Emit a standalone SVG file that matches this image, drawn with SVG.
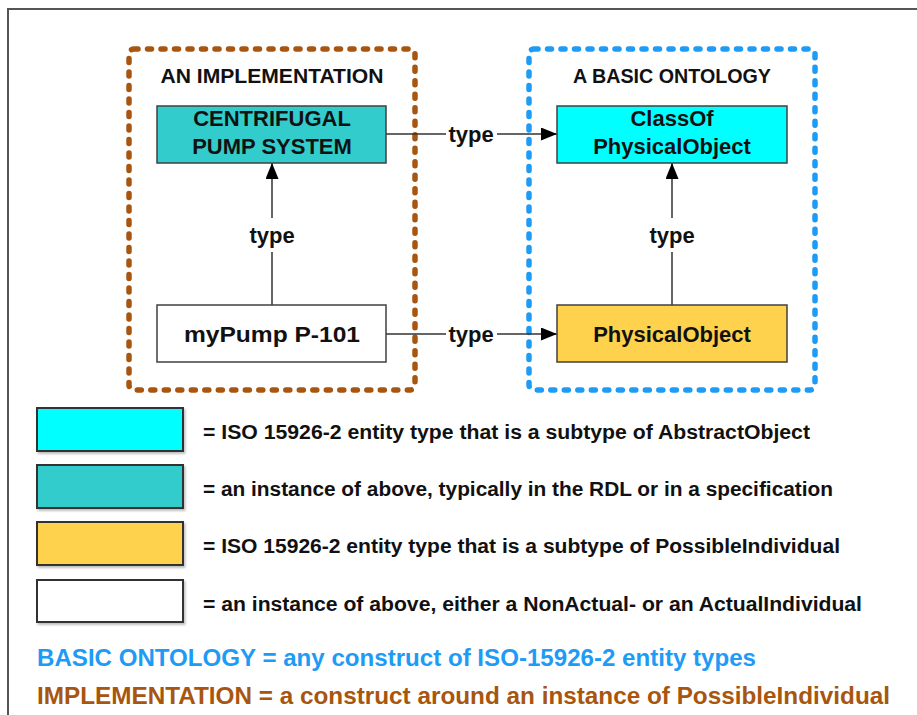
<svg xmlns="http://www.w3.org/2000/svg" width="917" height="715" viewBox="0 0 917 715">
<style>
text{font-family:"Liberation Sans",Arial,sans-serif;font-weight:bold;fill:#111}
.node{stroke:#404040;stroke-width:1.5}
.lbl{font-size:22px;text-anchor:middle}
.title{font-size:20px;text-anchor:middle}
.conn{stroke:#333;stroke-width:1.5;fill:none}
.leg{stroke:#333;stroke-width:2}
.legt{font-size:20px}
.grp{fill:none;stroke-width:5.5;stroke-linecap:round;stroke-dasharray:4 9.5}
</style>
<defs>
<marker id="arr" markerWidth="16" markerHeight="13" refX="16" refY="6.5" orient="auto" markerUnits="userSpaceOnUse">
<path d="M0,0 L16,6.5 L0,13 Z" fill="#000"/>
</marker>
<filter id="sh" x="-10%" y="-10%" width="130%" height="140%"><feDropShadow dx="1.5" dy="2" stdDeviation="1.2" flood-color="#000" flood-opacity="0.25"/></filter>
</defs>
<rect width="917" height="715" fill="#fff"/>
<rect x="8" y="9" width="930" height="730" fill="none" stroke="#555" stroke-width="2"/>

<g id="implementation">
<rect class="grp" x="129" y="49" width="286" height="341" rx="5" stroke="#A8560F"/>
<text class="title" x="272" y="83" textLength="223" lengthAdjust="spacingAndGlyphs">AN IMPLEMENTATION</text>
</g>
<g id="basic-ontology">
<rect class="grp" x="529" y="49" width="286" height="341" rx="5" stroke="#1E9BF5"/>
<text class="title" x="672" y="83" textLength="198" lengthAdjust="spacingAndGlyphs">A BASIC ONTOLOGY</text>
</g>

<g id="connectors">
<line class="conn" x1="272" y1="305" x2="272" y2="252"/>
<line class="conn" x1="272" y1="218" x2="272" y2="163" marker-end="url(#arr)"/>
<text class="lbl" x="272" y="243">type</text>
<line class="conn" x1="672" y1="305" x2="672" y2="252"/>
<line class="conn" x1="672" y1="218" x2="672" y2="163" marker-end="url(#arr)"/>
<text class="lbl" x="672" y="243">type</text>
<line class="conn" x1="386" y1="134" x2="446" y2="134"/>
<line class="conn" x1="497" y1="134" x2="557" y2="134" marker-end="url(#arr)"/>
<text class="lbl" x="471" y="142">type</text>
<line class="conn" x1="386" y1="334" x2="446" y2="334"/>
<line class="conn" x1="497" y1="334" x2="557" y2="334" marker-end="url(#arr)"/>
<text class="lbl" x="471" y="342">type</text>
</g>

<g id="centrifugal-pump-system">
<rect class="node" x="157" y="106" width="229" height="57" fill="#33CCCC"/>
<text class="lbl" x="272" y="126">CENTRIFUGAL</text>
<text class="lbl" x="272" y="154">PUMP SYSTEM</text>
</g>
<g id="mypump">
<rect class="node" x="157" y="305" width="229" height="57" fill="#fff"/>
<text class="lbl" x="272" y="342" textLength="176" lengthAdjust="spacingAndGlyphs">myPump P-101</text>
</g>
<g id="classof-physicalobject">
<rect class="node" x="557" y="106" width="230" height="57" fill="#00FFFF"/>
<text class="lbl" x="672" y="126">ClassOf</text>
<text class="lbl" x="672" y="154">PhysicalObject</text>
</g>
<g id="physicalobject">
<rect class="node" x="557" y="305" width="230" height="57" fill="#FFD24D"/>
<text class="lbl" x="672" y="342">PhysicalObject</text>
</g>

<g id="legend">
<rect class="leg" x="37" y="408" width="146" height="43" fill="#00FFFF" filter="url(#sh)"/>
<text class="legt" x="203" y="439" textLength="607" lengthAdjust="spacingAndGlyphs">= ISO 15926-2 entity type that is a subtype of AbstractObject</text>
<rect class="leg" x="37" y="465" width="146" height="43" fill="#33CCCC" filter="url(#sh)"/>
<text class="legt" x="203" y="496" textLength="630" lengthAdjust="spacingAndGlyphs">= an instance of above, typically in the RDL or in a specification</text>
<rect class="leg" x="37" y="522" width="146" height="43" fill="#FFD24D" filter="url(#sh)"/>
<text class="legt" x="203" y="553" textLength="637" lengthAdjust="spacingAndGlyphs">= ISO 15926-2 entity type that is a subtype of PossibleIndividual</text>
<rect class="leg" x="37" y="580" width="146" height="42" fill="#fff" filter="url(#sh)"/>
<text class="legt" x="203" y="611" textLength="659" lengthAdjust="spacingAndGlyphs">= an instance of above, either a NonActual- or an ActualIndividual</text>
<text x="37" y="666" font-size="24" style="fill:#1E9BF5" textLength="719" lengthAdjust="spacingAndGlyphs">BASIC ONTOLOGY = any construct of ISO-15926-2 entity types</text>
<text x="37" y="704" font-size="24" style="fill:#A8560F" textLength="853" lengthAdjust="spacingAndGlyphs">IMPLEMENTATION = a construct around an instance of PossibleIndividual</text>
</g>
</svg>
